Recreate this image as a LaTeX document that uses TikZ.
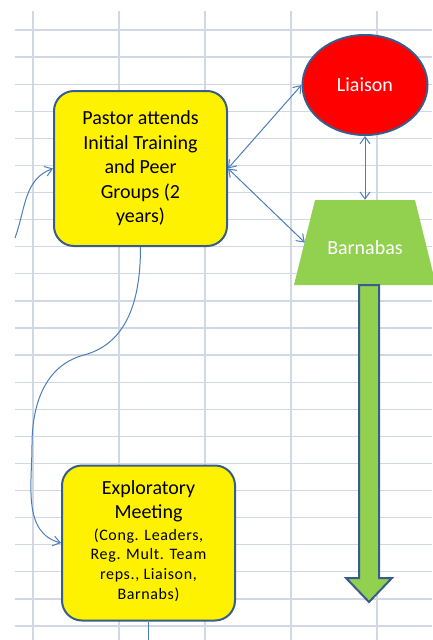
\documentclass[tikz,border=0pt]{standalone}
\usepackage{fontspec}
\setmainfont{Carlito}
\usetikzlibrary{arrows.meta,shapes.geometric}

\definecolor{gridblue}{HTML}{D0D7E5}
\definecolor{edgeblue}{HTML}{385D8A}
\definecolor{linkblue}{HTML}{4A7EBB}
\definecolor{leafgreen}{HTML}{92D050}

\newcommand\detailfont{\fontsize{16}{19.8}\selectfont}

\begin{document}
\begin{tikzpicture}[x=1pt, y=1pt, >={Straight Barb[length=7pt,width=10pt]},
  stage/.style={draw=edgeblue, line width=2pt, fill=yellow, rounded corners=20pt,
    minimum width=173pt, minimum height=155pt, inner sep=0pt, align=center,
    font=\fontsize{20}{24.5}\selectfont},
  link/.style={linkblue, line width=1pt}]

\useasboundingbox (0,0) rectangle (432,-640);

% sheet grid
\foreach \gx in {33,119,205,291,377}
  \draw[gridblue, line width=1.3pt] (\gx,-11) -- (\gx,-640);
\foreach \k in {0,...,22}
  \draw[gridblue, line width=1.3pt] (15,-30-27.09*\k) -- (432,-30-27.09*\k);

\node[stage] (pastor) at (140.5,-168.5) {Pastor attends\\Initial Training\\and Peer\\Groups (2\\years)};
\node[stage] (explore) at (148.5,-543) {Exploratory\\Meeting\\[3pt]
  \detailfont\addfontfeature{LetterSpace=4}\begin{tabular}{@{}c@{}}(Cong. Leaders,\\Reg. Mult. Team\\reps., Liaison,\\Barnabs)\end{tabular}};

\node[ellipse, draw=edgeblue, line width=2pt, fill=red, text=white, inner sep=0pt,
  minimum width=125pt, minimum height=100pt, font=\fontsize{20}{24}\selectfont] (liaison) at (365,-85) {Liaison};

% trapezoid
\fill[leafgreen] (315,-200) -- (415,-200) -- (436,-285) -- (294,-285) -- cycle;
\node[minimum width=120pt, minimum height=85pt, inner sep=0pt, text=white,
  font=\fontsize{20}{24}\selectfont] (barnabas) at (365,-242.5) {\raisebox{-5pt}[\height][\depth]{Barnabas}};

% big down arrow
\draw[fill=leafgreen, draw=edgeblue, line width=2pt, line join=miter]
  (359,-285) -- (359,-578) -- (346,-578) -- (369,-602) -- (392,-578) -- (379,-578) -- (379,-285) -- cycle;

\coordinate (enter) at (15,-238);
\coordinate (leave) at (148.5,-640);
\coordinate (bend) at (84,-355);
\coordinate (swing) at (32,-445);

\draw[link, <->] (pastor.east) -- (liaison.west);
\draw[link, <->] (pastor.east) -- (barnabas.west);
\draw[link, <->] (liaison.south) -- (barnabas.north);
\draw[link, ->] (enter) to[out=70, in=200] (pastor.west);
\draw[link, ->] (pastor.south) to[out=-90, in=15] (bend) to[out=195, in=90] (swing)
  to[out=-90, in=165] (explore.west);
\draw[link] (explore.south) -- (leave);

\end{tikzpicture}
\end{document}
